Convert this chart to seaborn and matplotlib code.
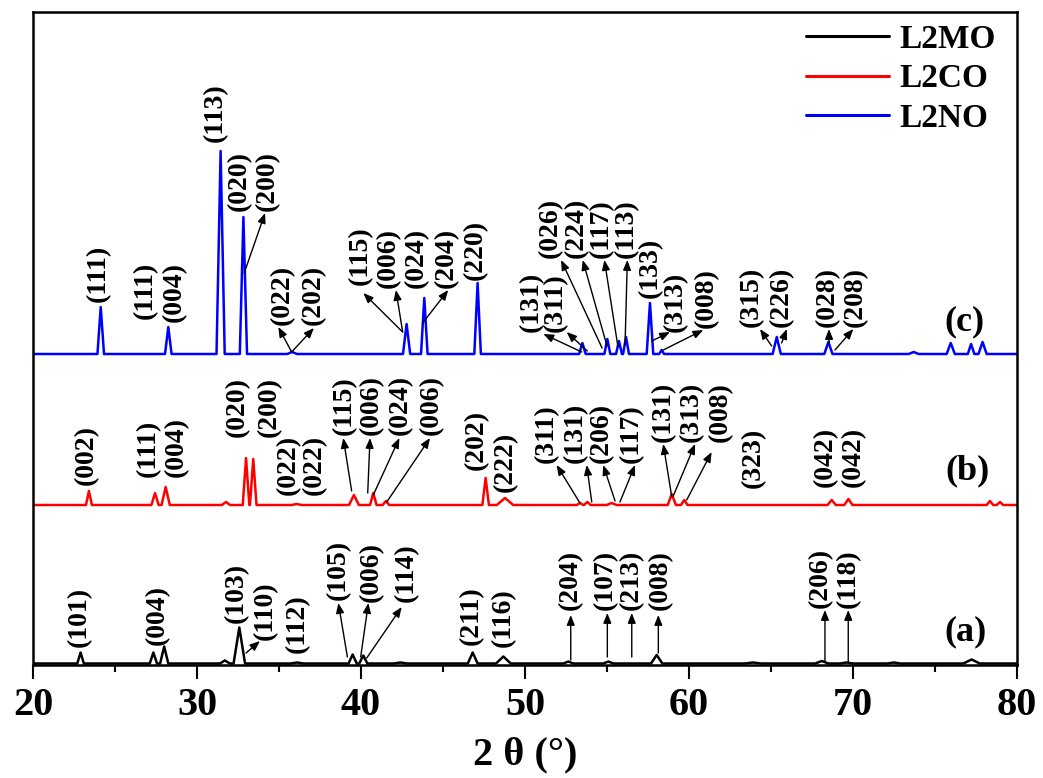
import numpy as np
import pandas as pd
import matplotlib
matplotlib.use("Agg")
import matplotlib.pyplot as plt
from matplotlib.ticker import MultipleLocator
import seaborn as sns

# ---------------- data ----------------
series_names = ["L2MO", "L2CO", "L2NO"]
series_colors = ["black", "red", "blue"]
series_offsets = [1.5, 160, 311]

# (a) L2MO peaks: 2theta, relative intensity, half width
a_pos = [22.9, 27.34, 28.0, 31.7, 32.58, 36.1, 39.49, 40.14, 42.4, 46.81, 48.68,
         52.64, 55.08, 58.03, 63.9, 68.1, 69.6, 72.5, 77.23]
a_int = [11, 11, 17, 3, 36, 1, 9, 8, 1, 11, 7, 2, 2, 8.5, 1, 2.5, 1, 1, 4]
a_hw = [0.2, 0.22, 0.25, 0.3, 0.35, 0.4, 0.25, 0.25, 0.4, 0.3, 0.45, 0.3, 0.3,
        0.35, 0.5, 0.4, 0.4, 0.4, 0.5]

# (b) L2CO peaks
b_pos = [23.41, 27.44, 28.09, 31.77, 32.99, 33.43, 36.08, 39.57, 40.75, 41.52, 47.6,
         48.78, 53.35, 53.8, 55.28, 58.95, 59.71, 68.7, 69.72, 78.35, 78.96]
b_int = [14, 12, 18, 3, 47, 46, 1, 10, 12, 4, 27, 7, 2, 3, 2, 11, 5, 5, 6, 4, 3]
b_hw = [0.18, 0.22, 0.25, 0.25, 0.2, 0.2, 0.3, 0.3, 0.2, 0.2, 0.2, 0.5, 0.2, 0.2,
        0.3, 0.25, 0.2, 0.25, 0.25, 0.2, 0.2]

# (c) L2NO peaks
c_pos = [24.13, 28.25, 31.44, 32.83, 35.8, 42.78, 43.86, 47.11, 53.5, 55.02, 55.73,
         56.16, 57.62, 58.33, 65.35, 68.5, 73.7, 75.96, 77.2, 77.9]
c_int = [47, 27, 203, 137, 2, 30, 56, 71, 11, 15, 13, 17, 51, 4, 17, 12, 2, 11, 10, 12]
c_hw = [0.2, 0.2, 0.25, 0.22, 0.3, 0.22, 0.2, 0.2, 0.2, 0.18, 0.18, 0.18, 0.2, 0.15,
        0.25, 0.25, 0.3, 0.25, 0.2, 0.25]

# Miller-index labels: text, 2theta, label bottom, arrow (from x, from y, to x, to y)
c_labels = [
    ("(111)", 24.0, 363, None), ("(111)", 26.83, 346, None), ("(004)", 28.62, 343, None),
    ("(113)", 31.14, 523, None), ("(020)", 32.56, 454, None),
    ("(200)", 34.29, 454, (32.88, 392, 34.15, 452)),
    ("(022)", 35.2, 340, (35.77, 313, 34.96, 338)),
    ("(202)", 37.09, 340, (35.77, 313, 37.13, 337)),
    ("(115)", 39.94, 380, (42.54, 333, 40.14, 372)),
    ("(006)", 41.66, 377, (42.54, 333, 42.13, 375)),
    ("(024)", 43.40, 377, None),
    ("(204)", 45.23, 377, (43.76, 342, 45.32, 375)),
    ("(220)", 46.95, 385, None),
    ("(131)", 50.41, 333, (53.46, 313, 51.12, 331)),
    ("(311)", 51.83, 333, (53.80, 314, 52.54, 333)),
    ("(026)", 51.52, 407, (54.70, 317, 52.20, 405)),
    ("(224)", 53.11, 407, (55.0, 319, 53.52, 405)),
    ("(117)", 54.68, 407, (55.67, 318, 54.84, 405)),
    ("(113)", 56.20, 407, (56.10, 320, 56.24, 405)),
    ("(133)", 57.62, 367, None),
    ("(313)", 59.15, 333, (57.73, 324, 58.84, 333)),
    ("(008)", 61.08, 337, (58.43, 315, 60.87, 335)),
    ("(315)", 63.82, 338, (65.04, 319, 64.33, 336)),
    ("(226)", 65.65, 338, (65.65, 322, 65.96, 336)),
    ("(028)", 68.46, 338, (68.54, 322, 68.54, 336)),
    ("(208)", 70.12, 338, (68.90, 315, 70.02, 336)),
]
b_labels = [
    ("(002)", 23.27, 180, None), ("(111)", 27.03, 188, None), ("(004)", 28.76, 188, None),
    ("(020)", 32.48, 228, None), ("(200)", 34.41, 228, None),
    ("(022)", 35.57, 170, None), ("(022)", 37.15, 170, None),
    ("(115)", 38.98, 230, (39.43, 174, 38.92, 227)),
    ("(006)", 40.65, 230, (40.41, 172, 40.55, 227)),
    ("(024)", 42.38, 230, (40.75, 170, 42.34, 227)),
    ("(006)", 44.31, 230, (41.57, 163, 44.21, 227)),
    ("(202)", 47.05, 195, None), ("(222)", 48.78, 173, None),
    ("(311)", 51.32, 202, (53.35, 162, 51.93, 200)),
    ("(131)", 53.05, 202, (54.07, 163, 53.76, 200)),
    ("(206)", 54.68, 202, (55.49, 164, 54.77, 200)),
    ("(117)", 56.5, 202, (55.79, 163, 56.71, 200)),
    ("(131)", 58.43, 223, (58.95, 168, 58.43, 221)),
    ("(313)", 60.16, 223, (59.04, 169, 60.37, 221)),
    ("(008)", 61.89, 223, (59.86, 165, 61.38, 213)),
    ("(323)", 63.92, 177, None),
    ("(042)", 68.29, 178, None), ("(042)", 70.02, 178, None),
]
a_labels = [
    ("(101)", 22.82, 18, None), ("(004)", 27.60, 20, None), ("(103)", 32.42, 42, None),
    ("(110)", 34.15, 25, (32.99, 12, 33.84, 24)),
    ("(112)", 36.14, 12, None),
    ("(105)", 38.62, 65, (39.17, 8, 38.62, 62)),
    ("(006)", 40.65, 63, (39.98, 8, 40.45, 62)),
    ("(114)", 42.79, 63, (40.35, 7, 42.48, 58)),
    ("(211)", 46.75, 20, None), ("(116)", 48.68, 18, None),
    ("(204)", 52.74, 55, (52.79, 5, 52.79, 50)),
    ("(107)", 54.88, 55, (55.02, 8, 55.02, 52)),
    ("(213)", 56.51, 55, (56.51, 8, 56.51, 52)),
    ("(008)", 58.23, 55, (58.13, 12, 58.13, 50)),
    ("(206)", 67.99, 57, (68.29, 3, 68.29, 55)),
    ("(118)", 69.71, 57, (69.71, 3, 69.71, 55)),
]
panel_tags = ["(a)", "(b)", "(c)"]
panel_tag_x = [76.83, 77.01, 76.77]
panel_tag_y = [33, 194, 343]

x_label = "2 θ (°)"

# ---------------- build traces ----------------
def trace(pos, inten, hw, offset):
    xs, ys = [20.0], [offset]
    for c, h, w in zip(pos, inten, hw):
        xs += [c - w, c, c + w]
        ys += [offset, offset + h, offset]
    xs.append(80.0)
    ys.append(offset)
    return xs, ys

frames = []
for name, (p, i, w), off in zip(series_names,
                                [(a_pos, a_int, a_hw), (b_pos, b_int, b_hw), (c_pos, c_int, c_hw)],
                                series_offsets):
    xs, ys = trace(p, i, w, off)
    frames.append(pd.DataFrame({"theta": xs, "I": ys, "sample": name}))
df = pd.concat(frames, ignore_index=True)

# ---------------- style ----------------
sns.set_style("ticks")
plt.rcParams['font.family'] = ['Liberation Serif', 'DejaVu Serif']
plt.rcParams['font.weight'] = 'bold'
plt.rcParams['axes.edgecolor'] = 'black'
plt.rcParams['axes.labelcolor'] = 'black'
plt.rcParams['text.color'] = 'black'
plt.rcParams['xtick.color'] = 'black'
plt.rcParams['xtick.labelcolor'] = 'black'

fig = plt.figure(figsize=(10.43, 7.78), dpi=100)
ax = fig.add_axes([33 / 1043, 113 / 778, 984 / 1043, 653 / 778])

sns.lineplot(data=df, x="theta", y="I", hue="sample", hue_order=series_names,
             palette=dict(zip(series_names, series_colors)), estimator=None,
             sort=False, linewidth=1.8, ax=ax)

ax.set_xlim(20, 80)
ax.set_ylim(0, 653)
ax.set_yticks([])
ax.set_ylabel("")
ax.xaxis.set_major_locator(MultipleLocator(10))
ax.xaxis.set_minor_locator(MultipleLocator(5))
ax.tick_params(axis='x', which='major', direction='out', length=10, width=1.5,
               labelsize=29, pad=5.5, colors='black')
ax.tick_params(axis='x', which='minor', direction='out', length=5, width=1.5)
for lbl in ax.get_xticklabels():
    lbl.set_fontweight('bold')
for s in ax.spines.values():
    s.set_linewidth(1.8)
    s.set_color('black')
ax.set_xlabel(x_label, fontsize=29, fontweight='bold', labelpad=9, color='black')

handles, labels = ax.get_legend_handles_labels()
leg = ax.legend(handles, labels, loc='upper right', bbox_to_anchor=(0.978, 0.982),
                frameon=False, prop=dict(family='Liberation Serif', weight='bold', size=24),
                handlelength=2.5, handletextpad=0.3, labelspacing=0.26,
                borderpad=0, borderaxespad=0)
for ln in leg.get_lines():
    ln.set_linewidth(2.2)
for t in leg.get_texts():
    t.set_color('black')

for labs in (a_labels, b_labels, c_labels):
    for txt, x, y, arr in labs:
        ax.text(x, y, txt, rotation=90, ha='center', va='bottom', fontsize=20,
                fontweight='bold', color='black')
        if arr is not None:
            ax.annotate("", xy=(arr[2], arr[3]), xytext=(arr[0], arr[1]),
                        arrowprops=dict(arrowstyle='-|>,head_length=0.5,head_width=0.2',
                                        mutation_scale=12, lw=1.0, color='black',
                                        shrinkA=0, shrinkB=0))

for t, x, y in zip(panel_tags, panel_tag_x, panel_tag_y):
    ax.text(x, y, t, ha='center', va='center', fontsize=26, fontweight='bold',
            color='black')

fig.savefig("out.png", dpi=100)
